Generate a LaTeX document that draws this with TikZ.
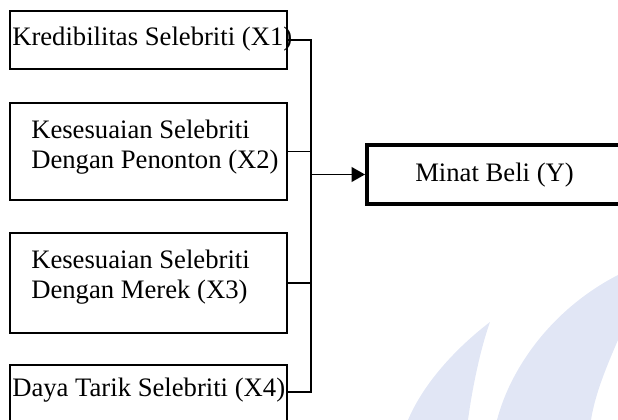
\documentclass[tikz,border=0pt]{standalone}
\usepackage{fontspec}
\setmainfont{Liberation Serif}
\usetikzlibrary{arrows.meta}
\definecolor{wm}{RGB}{225,230,245}
\tikzset{
  box/.style={draw=black, line width=1.3pt, rectangle, inner sep=0pt, fill=white},
  mainbox/.style={draw=black, line width=3pt, rectangle, inner sep=0pt, fill=white},
  lbl/.style={anchor=base west, inner sep=0pt, font=\fontsize{20}{22.5}\selectfont},
  conn/.style={draw=black, line width=1.3pt},
  arr/.style={conn, -{Triangle[length=10pt,width=11pt]}}
}
\begin{document}
\begin{tikzpicture}[x=0.75pt, y=-0.75pt]
\useasboundingbox (0,0) rectangle (618,420);
\clip (0,0) rectangle (618,420);
% watermark
\fill[wm] (490,322) .. controls (460,345) and (425,380) .. (408,420) -- (468,420) .. controls (472,390) and (480,350) .. cycle;
\fill[wm] (497,420) .. controls (510,370) and (550,310) .. (618,275) -- (618,340) .. controls (605,370) and (595,395) .. (591,420) -- cycle;
% boxes
\node[box, minimum width=207.75pt, minimum height=43.5pt] (b1) at (148.5,40) {};
\node[box, minimum width=207.75pt, minimum height=72.75pt] (b2) at (148.5,151.5) {};
\node[box, minimum width=207.75pt, minimum height=75pt] (b3) at (148.5,283) {};
\node[box, minimum width=207.75pt, minimum height=60pt] (b4) at (148.5,405) {};
\node[mainbox, minimum width=219.75pt, minimum height=44.25pt] (b5) at (513.5,174.5) {};
% labels
\node[lbl] (t1) at (12,46) {Kredibilitas Selebriti (X1)};
\node[lbl] (t2a) at (31,139) {Kesesuaian Selebriti};
\node[lbl] (t2b) at (31,169) {Dengan Penonton (X2)};
\node[lbl] (t3a) at (31,269) {Kesesuaian Selebriti};
\node[lbl] (t3b) at (31,299) {Dengan Merek (X3)};
\node[lbl] (t4) at (12,397) {Daya Tarik Selebriti (X4)};
\node[lbl] (t5) at (415,182) {Minat Beli (Y)};
% connectors
\coordinate (j4) at (311,392);
\draw[conn] (b1.east) -| (j4) -- (j4 -| b4.east);
\draw[conn] (b2.east) -- (b2.east -| j4);
\draw[conn] (b3.east) -- (b3.east -| j4);
\draw[arr] (b5.west -| j4) -- (b5.west);
\end{tikzpicture}
\end{document}
